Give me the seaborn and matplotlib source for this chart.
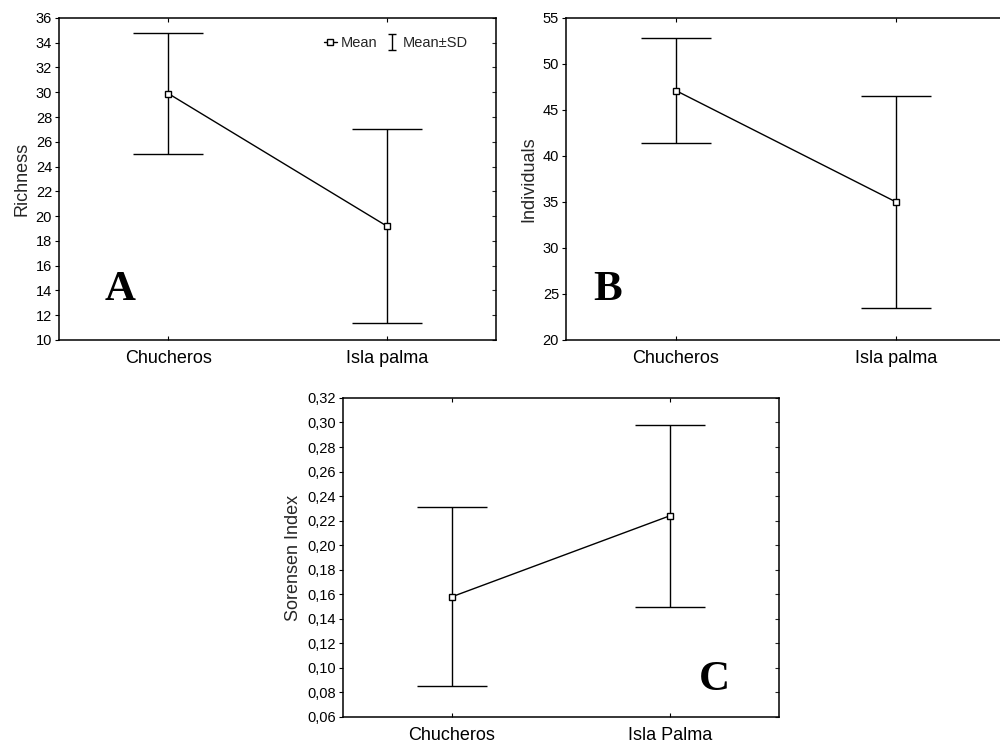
import matplotlib
matplotlib.use("Agg")
import matplotlib.pyplot as plt
import seaborn as sns
import numpy as np
import pandas as pd
from matplotlib.lines import Line2D
from matplotlib.path import Path
from matplotlib.ticker import FuncFormatter

# ---- data ----
sites_ab = ["Chucheros", "Isla palma"]
sites_c = ["Chucheros", "Isla Palma"]

richness_mean = [29.9, 19.2]
richness_sd = [4.9, 7.8]

individuals_mean = [47.1, 35.0]
individuals_sd = [5.7, 11.5]

sorensen_mean = [0.158, 0.224]
sorensen_sd = [0.073, 0.074]

sns.set_theme(style="white")
plt.rcParams["font.family"] = ["Liberation Sans", "DejaVu Sans"]

fig = plt.figure(figsize=(10, 7.42), dpi=100)

def panel(rect, cats, means, sds, ylabel, yticks, ylim, letter, letter_xy, fmt=None):
    ax = fig.add_axes(rect)
    df = pd.DataFrame({"site": cats, "value": means})
    ax.errorbar(x=np.arange(len(cats)), y=means, yerr=sds, fmt="none",
                ecolor="black", elinewidth=1.0, capsize=25, capthick=1.0, zorder=1)
    sns.pointplot(data=df, x="site", y="value", order=cats, ax=ax, color="black",
                  errorbar=None, markers="s", linewidth=1.0,
                  markersize=4.5, markerfacecolor="white", markeredgecolor="black",
                  markeredgewidth=1.0, zorder=3)
    ax.set_xlim(-0.5, 1.5)
    ax.set_ylim(*ylim)
    ax.set_yticks(yticks)
    if fmt is not None:
        ax.yaxis.set_major_formatter(FuncFormatter(fmt))
    ax.set_xlabel("")
    ax.set_ylabel(ylabel, fontsize=13, labelpad=4)
    for s in ax.spines.values():
        s.set_color("black")
        s.set_linewidth(1.1)
    ax.tick_params(axis="y", which="both", direction="out", left=True, right=False,
                   length=3, width=0.8, labelsize=10.5, pad=2, colors="black")
    ax.tick_params(axis="x", which="both", direction="in", bottom=True, top=True,
                   length=3, width=0.8, labelsize=13, pad=7, colors="black")
    # inward ticks on the right spine
    axr = ax.secondary_yaxis("right")
    axr.set_yticks(yticks)
    axr.tick_params(direction="in", length=3, width=0.8, labelright=False)
    axr.spines["right"].set_visible(False)
    ax.text(letter_xy[0], letter_xy[1], letter, transform=ax.transAxes,
            fontsize=31, fontweight="bold", family="Liberation Serif",
            ha="center", va="center", color="black")
    return ax

axA = panel([0.059, 0.5418, 0.437, 0.434], sites_ab, richness_mean, richness_sd,
            "Richness", np.arange(10, 37, 2), (10, 36), "A", (0.14, 0.155))
axB = panel([0.566, 0.5418, 0.44, 0.434], sites_ab, individuals_mean, individuals_sd,
            "Individuals", np.arange(20, 56, 5), (20, 55), "B", (0.095, 0.155))
axC = panel([0.343, 0.0337, 0.436, 0.430], sites_c, sorensen_mean, sorensen_sd,
            "Sorensen Index", np.round(np.arange(0.06, 0.321, 0.02), 2), (0.06, 0.32),
            "C", (0.853, 0.116), fmt=lambda v, p: f"{v:.2f}".replace(".", ","))

# legend in panel A
ibeam = Path([(-0.5, 1), (0.5, 1), (0, 1), (0, -1), (-0.5, -1), (0.5, -1)],
             [Path.MOVETO, Path.LINETO, Path.MOVETO, Path.LINETO, Path.MOVETO, Path.LINETO])
h_mean = Line2D([], [], color="black", lw=1.0, marker="s", ms=4.5,
                markerfacecolor="white", markeredgecolor="black")
h_sd = Line2D([], [], color="black", lw=0, marker=ibeam, ms=11, markeredgewidth=1.0)
axA.legend([h_mean, h_sd], ["Mean", "Mean±SD"], loc="upper right", ncol=2,
           frameon=False, fontsize=10.5, handlelength=0.9, handletextpad=0.3,
           columnspacing=0.5, bbox_to_anchor=(0.965, 0.985))

fig.savefig("out.png", dpi=100)
